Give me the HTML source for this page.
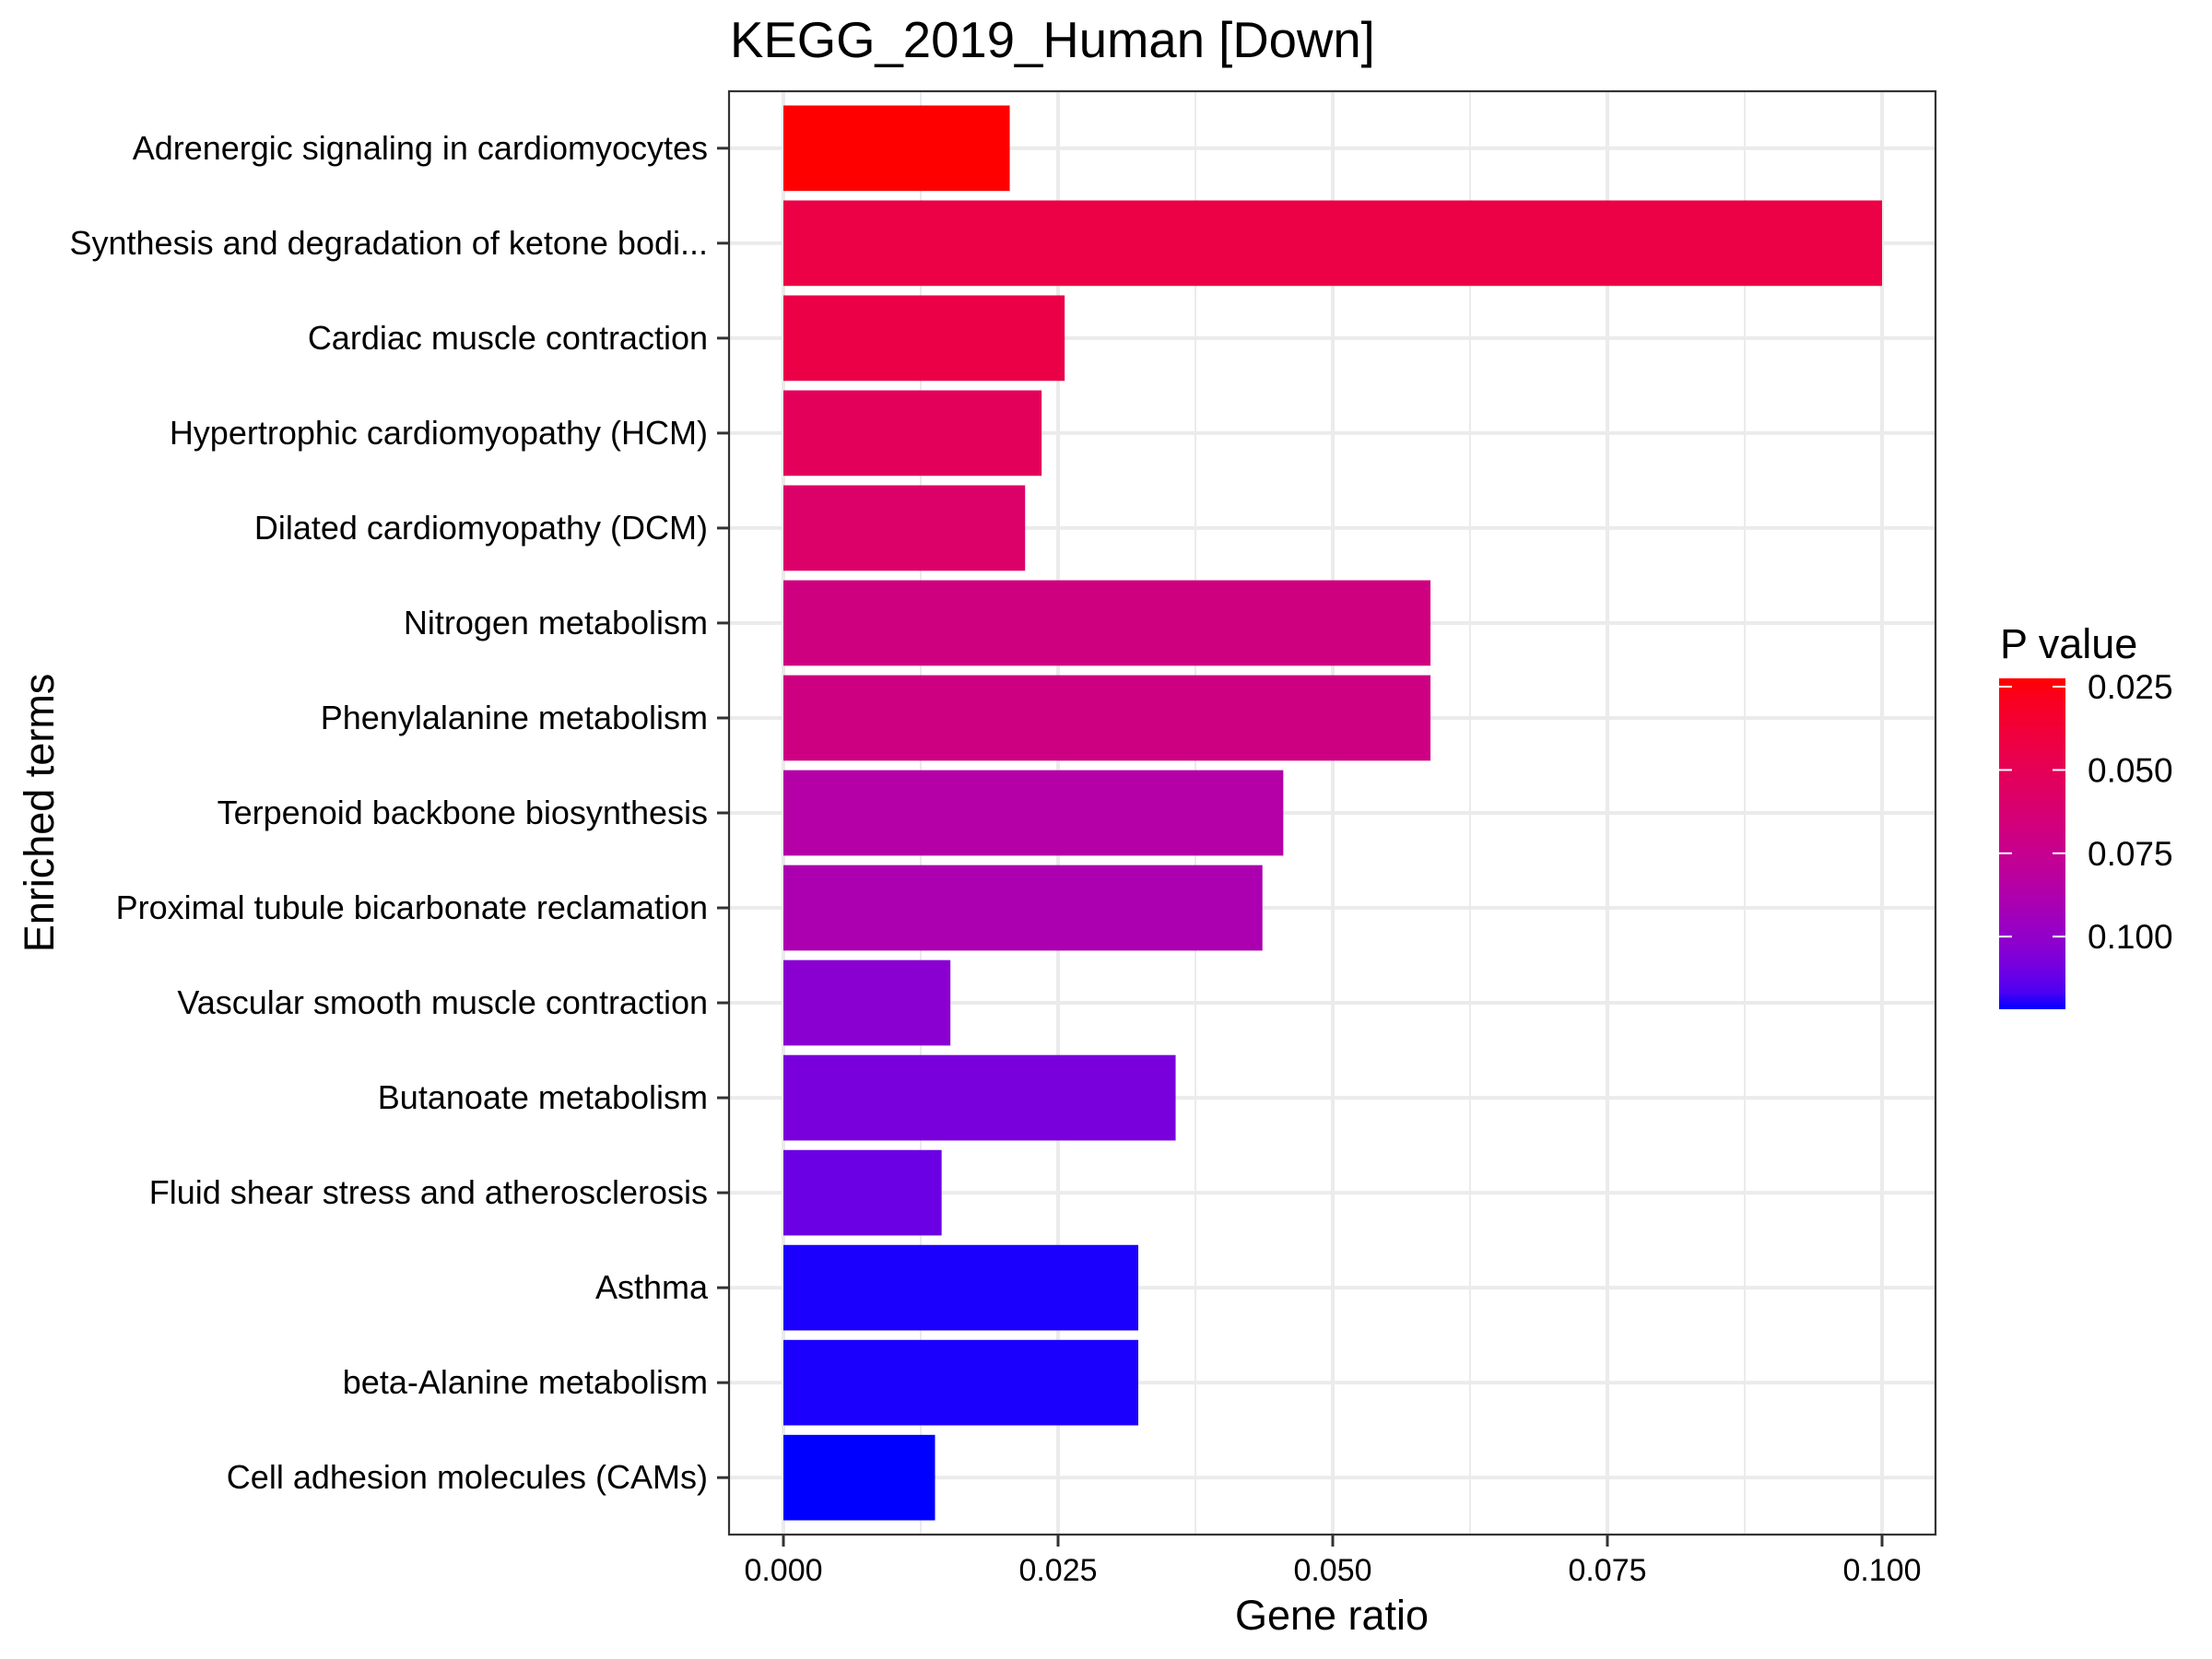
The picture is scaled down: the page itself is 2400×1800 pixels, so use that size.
<!DOCTYPE html>
<html><head><meta charset="utf-8"><style>
html,body{margin:0;padding:0;background:#fff;}
svg{display:block;font-family:"Liberation Sans",Arial,sans-serif;}
</style></head><body>
<svg id="chart" width="2400" height="1800" viewBox="0 0 2400 1800" xmlns="http://www.w3.org/2000/svg">
<defs><linearGradient id="cbar" x1="0" y1="0" x2="0" y2="1"></linearGradient></defs>
<rect x="0" y="0" width="2400" height="1800" fill="#fff"/>
<text x="792" y="62" font-size="54.5" fill="#000">KEGG_2019_Human [Down]</text>
<g id="grid"></g>
<g id="bars"></g>
<rect x="791" y="99" width="1309" height="1566" fill="none" stroke="#333" stroke-width="2.2"/>
<g id="yaxis"></g>
<g id="xaxis"></g>
<text x="1445" y="1768" font-size="45" text-anchor="middle" fill="#000">Gene ratio</text>
<text transform="translate(58,882) rotate(-90)" font-size="45" text-anchor="middle" fill="#000">Enriched terms</text>
<g id="legend">
<text x="2170" y="714" font-size="45" fill="#000">P value</text>
<rect x="2169" y="736" width="72" height="359" fill="url(#cbar)"/>
</g>
</svg>
<script>
const categories = ["Adrenergic signaling in cardiomyocytes","Synthesis and degradation of ketone bodi...","Cardiac muscle contraction","Hypertrophic cardiomyopathy (HCM)","Dilated cardiomyopathy (DCM)","Nitrogen metabolism","Phenylalanine metabolism","Terpenoid backbone biosynthesis","Proximal tubule bicarbonate reclamation","Vascular smooth muscle contraction","Butanoate metabolism","Fluid shear stress and atherosclerosis","Asthma","beta-Alanine metabolism","Cell adhesion molecules (CAMs)"];
const geneRatio = [0.0206,0.1000,0.0256,0.0235,0.0220,0.0589,0.0589,0.0455,0.0436,0.0152,0.0357,0.0144,0.0323,0.0323,0.0138];
const pValues = [0.0225,0.0434,0.0443,0.0523,0.0582,0.0682,0.0692,0.0851,0.0890,0.1030,0.1079,0.1109,0.1210,0.1210,0.1218];
const xTicks = [0,0.025,0.05,0.075,0.1];
const xTickLabels = ["0.000","0.025","0.050","0.075","0.100"];
const legendTicks = [0.025,0.05,0.075,0.1];
const legendTickLabels = ["0.025","0.050","0.075","0.100"];
const pMin = 0.0225, pMax = 0.1218;

const NS="http://www.w3.org/2000/svg";
const PL=791,PR=2100,PT=99,PB=1665;
const X0=850,XPER=1192/0.1;
function xScale(v){return X0+v*XPER;}
const n=categories.length;
const unit=(PB-PT)/(n-1+1.2);
function yScale(i){return PT+(0.6+i)*unit;}
const LT=736,LB=1095;
function legendY(p){return LT+(p-pMin)/(pMax-pMin)*(LB-LT);}

function srgbToLin(c){c/=255;return c<=0.04045?c/12.92:Math.pow((c+0.055)/1.055,2.4);}
function linToSrgb(c){c=c<=0.0031308?12.92*c:1.055*Math.pow(c,1/2.4)-0.055;return Math.max(0,Math.min(255,Math.round(c*255)));}
function rgb2lab(r,g,b){r=srgbToLin(r);g=srgbToLin(g);b=srgbToLin(b);
let X=(0.4124*r+0.3576*g+0.1805*b)/0.95047,Y=(0.2126*r+0.7152*g+0.0722*b),Z=(0.0193*r+0.1192*g+0.9505*b)/1.08883;
const f=t=>t>0.008856?Math.cbrt(t):7.787*t+16/116;const fx=f(X),fy=f(Y),fz=f(Z);
return [116*fy-16,500*(fx-fy),200*(fy-fz)];}
function lab2rgb(L,a,bb){const fy=(L+16)/116,fx=fy+a/500,fz=fy-bb/200;
const fi=t=>t*t*t>0.008856?t*t*t:(t-16/116)/7.787;
const X=fi(fx)*0.95047,Y=fi(fy),Z=fi(fz)*1.08883;
const r=3.2406*X-1.5372*Y-0.4986*Z,g=-0.9689*X+1.8758*Y+0.0415*Z,b=0.0557*X-0.2040*Y+1.0570*Z;
return "rgb("+linToSrgb(r)+","+linToSrgb(g)+","+linToSrgb(b)+")";}
const labLo=rgb2lab(255,0,0),labHi=rgb2lab(0,0,255);
function colorScale(p){let t=(p-pMin)/(pMax-pMin);t=Math.max(0,Math.min(1,t));
return lab2rgb(labLo[0]+(labHi[0]-labLo[0])*t,labLo[1]+(labHi[1]-labLo[1])*t,labLo[2]+(labHi[2]-labLo[2])*t);}

const grid=document.getElementById('grid');
for(let i=0;i<xTicks.length-1;i++){const v=(xTicks[i]+xTicks[i+1])/2;
const l=document.createElementNS(NS,'line');l.setAttribute('x1',xScale(v));l.setAttribute('x2',xScale(v));l.setAttribute('y1',PT);l.setAttribute('y2',PB);l.setAttribute('stroke','#ebebeb');l.setAttribute('stroke-width','2');


grid.appendChild(l);}
xTicks.forEach(v=>{const l=document.createElementNS(NS,'line');l.setAttribute('x1',xScale(v));l.setAttribute('x2',xScale(v));l.setAttribute('y1',PT);l.setAttribute('y2',PB);l.setAttribute('stroke','#ebebeb');l.setAttribute('stroke-width','4');


grid.appendChild(l);});
categories.forEach((c,i)=>{const l=document.createElementNS(NS,'line');l.setAttribute('x1',PL);l.setAttribute('x2',PR);l.setAttribute('y1',yScale(i));l.setAttribute('y2',yScale(i));l.setAttribute('stroke','#ebebeb');l.setAttribute('stroke-width','4');


grid.appendChild(l);});

const bars=document.getElementById('bars');
const bw=unit*0.9;
categories.forEach((c,i)=>{const r=document.createElementNS(NS,'rect');
r.setAttribute('x',xScale(0));r.setAttribute('y',yScale(i)-bw/2);r.setAttribute('width',xScale(geneRatio[i])-xScale(0));r.setAttribute('height',bw);r.setAttribute('fill',colorScale(pValues[i]));


bars.appendChild(r);});

const ya=document.getElementById('yaxis');
categories.forEach((c,i)=>{const y=yScale(i);
const t=document.createElementNS(NS,'line');t.setAttribute('x1',778);t.setAttribute('x2',PL);t.setAttribute('y1',y);t.setAttribute('y2',y);t.setAttribute('stroke','#333');t.setAttribute('stroke-width','3');


ya.appendChild(t);
const tx=document.createElementNS(NS,'text');tx.setAttribute('x',768);tx.setAttribute('y',y+12);tx.setAttribute('text-anchor','end');tx.setAttribute('font-size','36');tx.setAttribute('fill','#000');tx.textContent=c;


ya.appendChild(tx);});

const xa=document.getElementById('xaxis');
xTicks.forEach((v,i)=>{const x=xScale(v);
const t=document.createElementNS(NS,'line');t.setAttribute('x1',x);t.setAttribute('x2',x);t.setAttribute('y1',PB);t.setAttribute('y2',PB+13);t.setAttribute('stroke','#333');t.setAttribute('stroke-width','3');


xa.appendChild(t);
const tx=document.createElementNS(NS,'text');tx.setAttribute('x',x);tx.setAttribute('y',PB+50);tx.setAttribute('text-anchor','middle');tx.setAttribute('font-size','34');tx.setAttribute('fill','#000');tx.textContent=xTickLabels[i];


xa.appendChild(tx);});

const grad=document.getElementById('cbar');
for(let k=0;k<=20;k++){const p=pMin+(pMax-pMin)*k/20;const s=document.createElementNS(NS,'stop');s.setAttribute('offset',(k/20));s.setAttribute('stop-color',colorScale(p));grad.appendChild(s);}
const lg=document.getElementById('legend');
legendTicks.forEach((p,i)=>{const y=legendY(p);
[[2169,2183],[2227,2241]].forEach(([a,b])=>{const l=document.createElementNS(NS,'line');l.setAttribute('x1',a);l.setAttribute('x2',b);l.setAttribute('y1',y);l.setAttribute('y2',y);l.setAttribute('stroke','#fff');l.setAttribute('stroke-width','2');


lg.appendChild(l);});
const tx=document.createElementNS(NS,'text');tx.setAttribute('x',2265);tx.setAttribute('y',y+13);tx.setAttribute('font-size','37');tx.setAttribute('fill','#000');tx.textContent=legendTickLabels[i];


lg.appendChild(tx);});
</script>
</body></html>
